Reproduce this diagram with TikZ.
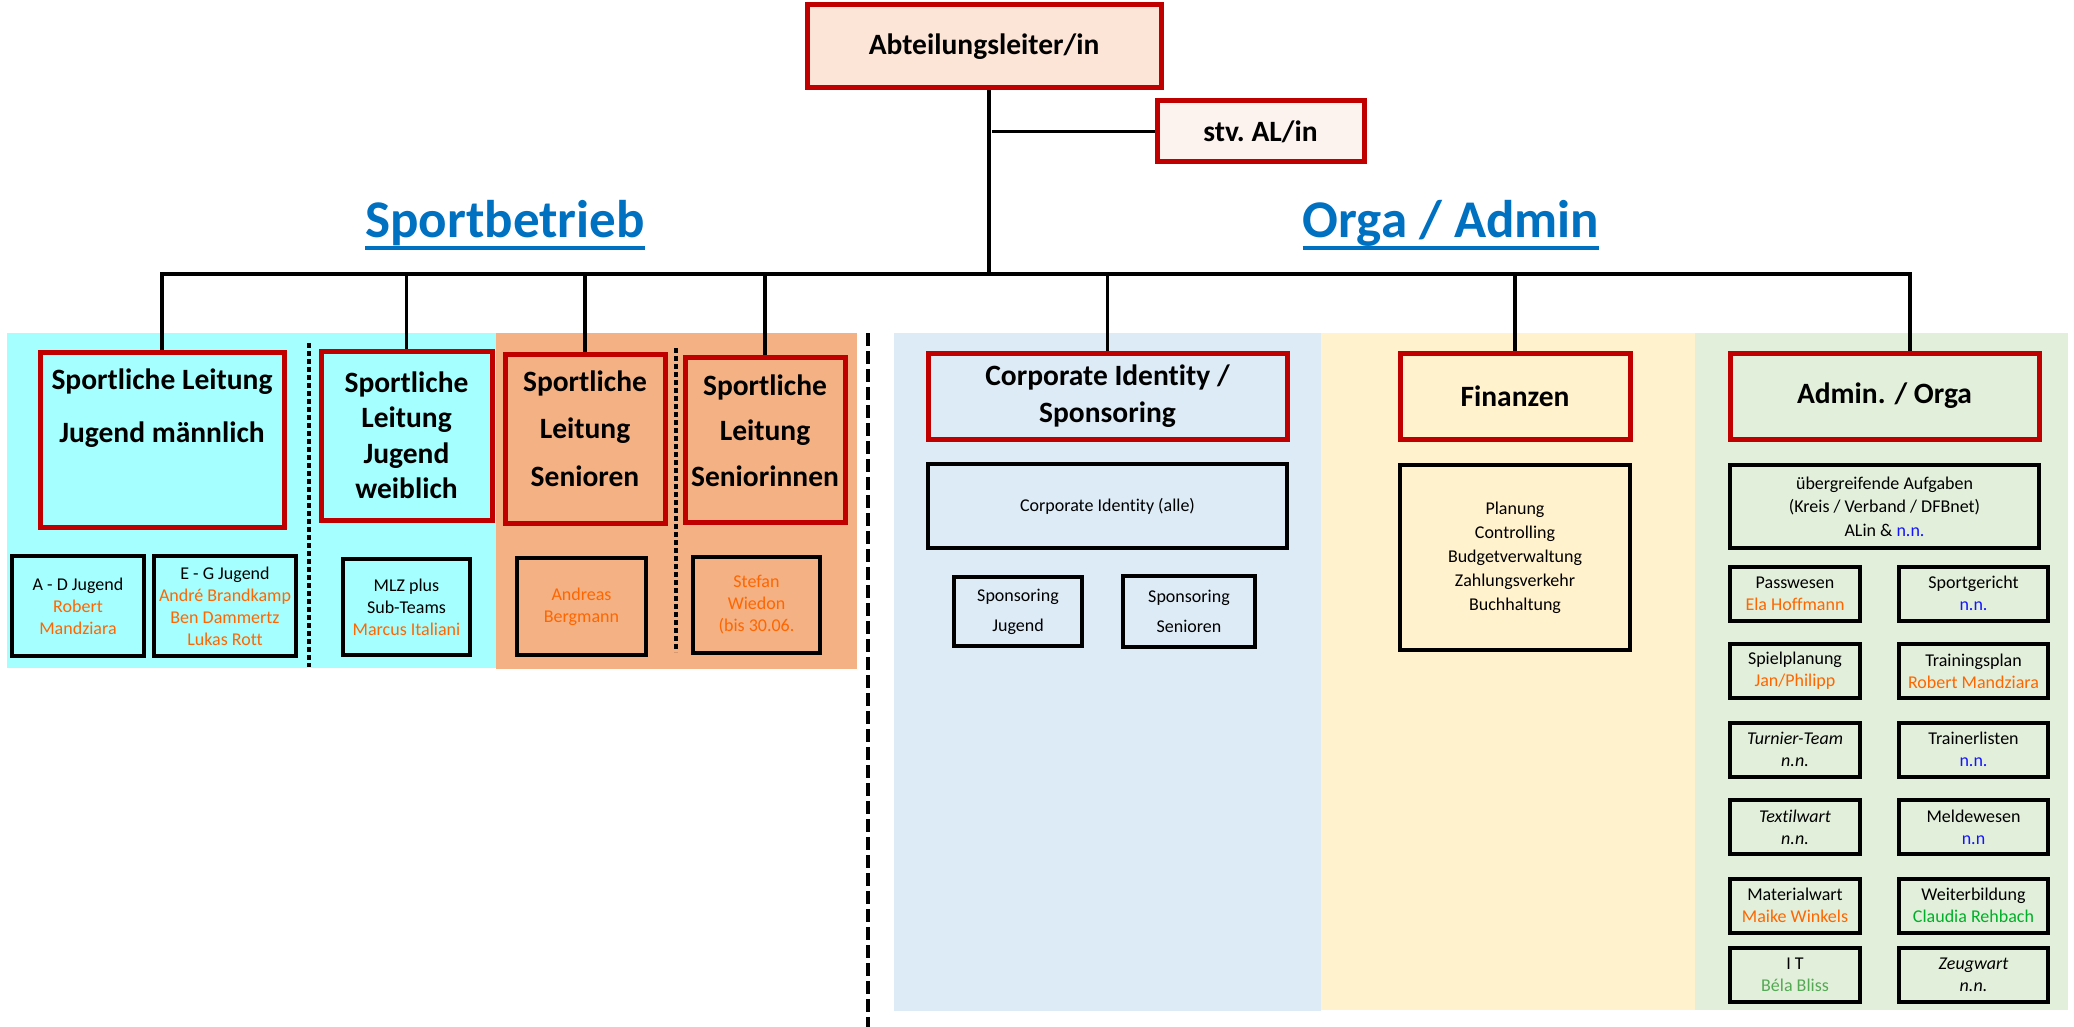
\documentclass[tikz,border=0pt]{standalone}
\usepackage{fontspec}
\setmainfont{Carlito}[Ligatures=NoCommon]
\usetikzlibrary{positioning}
\definecolor{alred}{RGB}{192,0,0}
\definecolor{abtfill}{RGB}{252,228,214}
\definecolor{stvfill}{RGB}{253,243,238}
\definecolor{cyanbg}{RGB}{166,255,255}
\definecolor{salmonbg}{RGB}{244,177,131}
\definecolor{bluebg}{RGB}{221,235,247}
\definecolor{yellowbg}{RGB}{255,242,204}
\definecolor{greenbg}{RGB}{226,239,218}
\definecolor{titleblue}{RGB}{0,112,192}
\definecolor{nameorange}{RGB}{255,102,0}
\definecolor{nnblue}{RGB}{20,20,255}
\definecolor{namegreen}{RGB}{0,176,40}
\definecolor{palegreen}{RGB}{84,170,84}

\begin{document}
\begin{tikzpicture}[x=1pt,y=-1pt,on grid,
	head/.style={draw=alred,line width=5pt,align=center,inner sep=0pt,font=\bfseries\fontsize{29.5}{35.5}\selectfont},
	sub/.style={draw=black,line width=4pt,align=center,inner sep=0pt,font=\fontsize{18}{22}\selectfont},
	cell/.style={sub,minimum width=130,minimum height=54},
	rcell/.style={sub,minimum width=149,minimum height=54},
	conn/.style={line width=3.3pt},
	sectitle/.style={text=titleblue,inner sep=0pt,anchor=base,font=\bfseries\fontsize{53}{60}\selectfont}]
	\useasboundingbox (0,0) rectangle (2074,1027);
	\fill[cyanbg] (7,333) rectangle (496,668);
	\fill[salmonbg] (496,333) rectangle (857,669);
	\fill[bluebg] (894,333) rectangle (1321,1011);
	\fill[yellowbg] (1321,333) rectangle (1695,1010);
	\fill[greenbg] (1695,333) rectangle (2068,1010);
	\draw[line width=4pt,dash pattern=on 13pt off 5pt] (868,333) -- (868,1027);
	\draw[line width=3.5pt,dash pattern=on 5pt off 3pt] (309,343) -- (309,667);
	\draw[line width=3.5pt,dash pattern=on 5pt off 3pt] (676,348) -- (676,652);

	\node[head,fill=abtfill,minimum width=354,minimum height=83] (abt) at (984,46.5) {Abteilungsleiter/in};
	\node[head,fill=stvfill,minimum width=207,minimum height=61] (stv) at (1260.5,131.5) {stv.\ AL/in};
	\node[sectitle] (sport) at (505,237) {Sportbetrieb};
	\node[sectitle] (orga) at (1451,237) {Orga / Admin};
	\draw[titleblue,line width=3.5pt] ([yshift=-11pt]sport.base west) -- ([yshift=-11pt]sport.base east);
	\draw[titleblue,line width=3.5pt] ([yshift=-11pt]orga.base west) -- ([yshift=-11pt]orga.base east);

	\node[head,minimum width=244,minimum height=175] (jm) at (162,439.5) {Sportliche Leitung\\[18pt]Jugend männlich\\[32pt]~};
	\node[head,minimum width=171,minimum height=169] (jw) at (406.5,435.5) {Sportliche\\Leitung\\Jugend\\weiblich};
	\node[head,minimum width=160,minimum height=169] (sen) at (585,438.5) {Sportliche\\[12pt]Leitung\\[12pt]Senioren\\[-15pt]~};
	\node[head,minimum width=160,minimum height=165] (sin) at (765,439.5) {Sportliche\\[10pt]Leitung\\[10pt]Seniorinnen\\[-17pt]~};
	\node[head,minimum width=359,minimum height=86] (ci) at (1107.5,396) {Corporate Identity /\\[1pt]Sponsoring};
	\node[head,minimum width=230,minimum height=86] (fin) at (1515,396) {Finanzen};
	\node[head,minimum width=309,minimum height=86] (adm) at (1884.5,396) {Admin. / Orga};

	\coordinate (bus) at (989,274);
	\draw[conn] (abt.south -| bus) -- (bus);
	\draw[conn] (stv.west) -- ([xshift=3pt]stv.west -| bus);
	\draw[conn] (jm.north) |- (bus);
	\draw[conn] (jw.north) |- (bus);
	\draw[conn] (sen.north) |- (bus);
	\draw[conn] (sin.north) |- (bus);
	\draw[conn] (ci.north) |- (bus);
	\draw[conn] (fin.north) |- (bus);
	\draw[conn] ([xshift=25.5pt]adm.north) |- (bus);

	\node[sub,minimum width=132,minimum height=100] (ad) at (78,606) {A - D Jugend\\\textcolor{nameorange}{Robert}\\\textcolor{nameorange}{Mandziara}};
	\node[sub,minimum width=142,minimum height=100] (eg) [right=147pt of ad] {E - G Jugend\\\textcolor{nameorange}{André Brandkamp}\\\textcolor{nameorange}{Ben Dammertz}\\\textcolor{nameorange}{Lukas Rott}};
	\node[sub,minimum width=127,minimum height=96] (mlz) [below=171.5pt of jw] {MLZ plus\\Sub-Teams\\\textcolor{nameorange}{Marcus Italiani}};
	\node[sub,minimum width=129,minimum height=97] (ab) at (581.5,606.5) {\textcolor{nameorange}{Andreas}\\\textcolor{nameorange}{Bergmann}};
	\node[sub,minimum width=127,minimum height=96] (sw) at (756.5,605) {\textcolor{nameorange}{Stefan}\\\textcolor{nameorange}{Wiedon}\\\textcolor{nameorange}{(bis 30.06.}};

	\node[sub,minimum width=359,minimum height=84] (cia) [below=110pt of ci] {Corporate Identity (alle)};
	\node[sub,minimum width=128,minimum height=69,font=\fontsize{18}{30}\selectfont] (spj) at (1018,611.5) {Sponsoring\\Jugend};
	\node[sub,minimum width=132,minimum height=71,font=\fontsize{18}{30}\selectfont] (sps) [right=171pt of spj] {Sponsoring\\Senioren};

	\node[sub,minimum width=230,minimum height=185,font=\fontsize{18}{24}\selectfont] (finl) [below=161.5pt of fin] {Planung\\Controlling\\Budgetverwaltung\\Zahlungsverkehr\\Buchhaltung};

	\node[sub,minimum width=309,minimum height=83,font=\fontsize{18}{23.5}\selectfont] (ueb) [below=110.5pt of adm] {übergreifende Aufgaben\\(Kreis / Verband / DFBnet)\\ALin \& \textcolor{nnblue}{n.n.}};
	\node[cell] (pass) at (1795,593.5) {Passwesen\\\textcolor{nameorange}{Ela Hoffmann}};
	\node[rcell] (sportg) [right=178.5pt of pass] {Sportgericht\\\textcolor{nnblue}{n.n.}};
	\node[cell] (spiel) [below=77.5pt of pass] {Spielplanung\\\textcolor{nameorange}{Jan/Philipp}};
	\node[rcell] (train) [right=178.5pt of spiel] {Trainingsplan\\\textcolor{nameorange}{Robert Mandziara}};
	\node[cell] (turnier) [below=78.5pt of spiel] {\textit{Turnier-Team}\\\textit{n.n.}};
	\node[rcell] (trainer) [right=178.5pt of turnier] {Trainerlisten\\\textcolor{nnblue}{n.n.}};
	\node[cell] (textil) [below=77.5pt of turnier] {\textit{Textilwart}\\\textit{n.n.}};
	\node[rcell] (melde) [right=178.5pt of textil] {Meldewesen\\\textcolor{nnblue}{n.n}};
	\node[cell] (material) [below=78.5pt of textil] {Materialwart\\\textcolor{nameorange}{Maike Winkels}};
	\node[rcell] (weiter) [right=178.5pt of material] {Weiterbildung\\\textcolor{namegreen}{Claudia Rehbach}};
	\node[cell] (it) [below=69.5pt of material] {I T\\\textcolor{palegreen}{Béla Bliss}};
	\node[rcell] (zeug) [right=178.5pt of it] {\textit{Zeugwart}\\\textit{n.n.}};
\end{tikzpicture}
\end{document}
